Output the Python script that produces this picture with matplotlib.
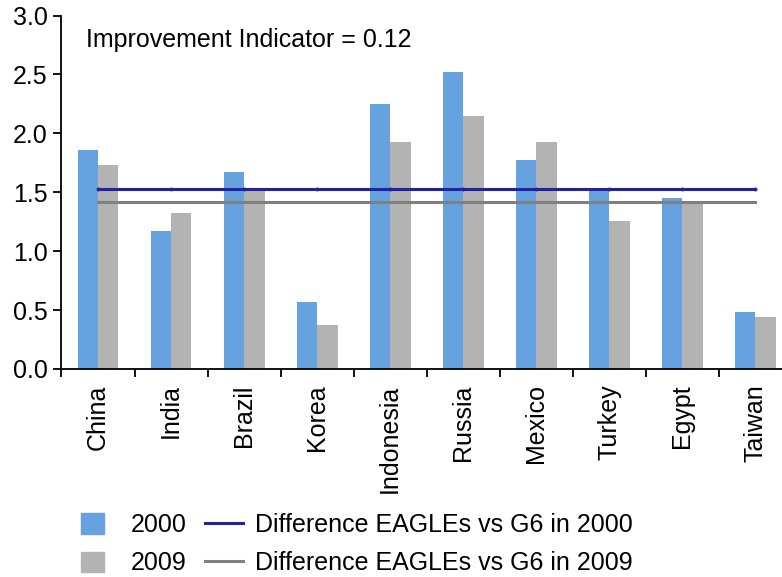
import numpy as np
import matplotlib
matplotlib.use('Agg')
from matplotlib import pyplot as plt
from matplotlib.patches import Patch
from matplotlib.lines import Line2D

countries = ['China', 'India', 'Brazil', 'Korea', 'Indonesia',
             'Russia', 'Mexico', 'Turkey', 'Egypt', 'Taiwan']
values_2000 = [1.86, 1.17, 1.67, 0.57, 2.25, 2.52, 1.77, 1.53, 1.45, 0.48]
values_2009 = [1.73, 1.32, 1.54, 0.37, 1.93, 2.15, 1.93, 1.26, 1.42, 0.44]
diff_2000 = 1.53
diff_2009 = 1.415
indicator_text = 'Improvement Indicator = 0.12'

blue = '#67A2E0'
grey = '#B3B3B3'
navy = '#2222A0'
line_grey = '#808080'

plt.rcParams['font.family'] = ['Liberation Sans', 'DejaVu Sans']

fig = plt.figure(figsize=(7.82, 5.77), dpi=100)
ax = fig.add_axes([0.0786, 0.3605, 0.934, 0.6126])

x = np.arange(len(countries))
w = 0.28
ax.bar(x - w / 2, values_2000, w, color=blue, zorder=2)
ax.bar(x + w / 2, values_2009, w, color=grey, zorder=2)
# lines run from the first to the last country centre
ax.plot(x, [diff_2000] * len(x), color=navy, lw=2.2, marker='o', ms=1.8, zorder=3)
ax.plot(x, [diff_2009] * len(x), color=line_grey, lw=2.2, zorder=3)

ax.set_xlim(-0.5, len(countries) - 0.5)
ax.set_ylim(0, 3)
ax.set_yticks(np.arange(0, 3.01, 0.5))
ax.set_yticklabels(['%.1f' % v for v in np.arange(0, 3.01, 0.5)])

ax.set_xticks(x)
ax.set_xticklabels(countries, rotation=90)
ax.set_xticks(np.arange(-0.5, len(countries), 1), minor=True)
ax.tick_params(axis='x', which='major', length=0, pad=11, labelsize=18)
ax.tick_params(axis='x', which='minor', length=6, width=1.3, direction='out')
ax.tick_params(axis='y', length=6, width=1.3, direction='out', pad=4, labelsize=18)

for s in ['top', 'right']:
    ax.spines[s].set_visible(False)
for s in ['left', 'bottom']:
    ax.spines[s].set_linewidth(1.3)

ax.text(0.0335, 0.93, indicator_text, transform=ax.transAxes,
        fontsize=18, va='center', ha='left')

h_bars = [Patch(color=blue), Patch(color=grey)]
h_lines = [Line2D([], [], color=navy, lw=2.2), Line2D([], [], color=line_grey, lw=2.2)]

leg1 = fig.legend(h_bars, ['2000', '2009'], loc='upper left',
                  bbox_to_anchor=(81 / 782, 1 - 513 / 577), frameon=False,
                  fontsize=18, borderpad=0, borderaxespad=0,
                  handlelength=0.92, handleheight=0.9, handletextpad=1.08,
                  labelspacing=0.58)
leg2 = fig.legend(h_lines, ['Difference EAGLEs vs G6 in 2000',
                            'Difference EAGLEs vs G6 in 2009'],
                  loc='upper left', bbox_to_anchor=(205 / 782, 1 - 513 / 577),
                  frameon=False, fontsize=18, borderpad=0, borderaxespad=0,
                  handlelength=1.52, handleheight=0.9, handletextpad=0.48,
                  labelspacing=0.58)

fig.savefig('out.png', dpi=100)
